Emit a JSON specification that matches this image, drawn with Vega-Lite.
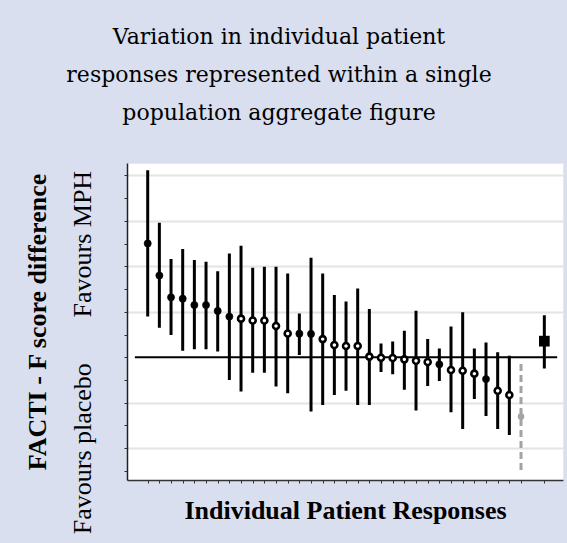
{
  "$schema": "https://vega.github.io/schema/vega-lite/v6.json",
  "width": 436,
  "height": 317,
  "autosize": {"type": "none"},
  "padding": {"left": 127, "top": 163, "right": 4, "bottom": 63},
  "background": "#d9dfee",
  "config": {
    "view": {"fill": "white", "stroke": "#e8e8e8"},
    "font": "Liberation Serif"
  },
  "title": {
    "text": ["Variation in individual patient", "responses represented within a single", "population aggregate figure"],
    "font": "DejaVu Serif",
    "fontSize": 22,
    "fontWeight": "normal",
    "color": "black",
    "lineHeight": 38,
    "anchor": "middle",
    "frame": "group",
    "dx": -66,
    "offset": 38
  },
  "data": {
    "values": [
      {"i": 0, "est": 5.01, "lo": 1.79, "hi": 8.23, "type": "filled"},
      {"i": 1, "est": 3.60, "lo": 1.30, "hi": 5.92, "type": "filled"},
      {"i": 2, "est": 2.64, "lo": 0.98, "hi": 4.32, "type": "filled"},
      {"i": 3, "est": 2.58, "lo": 0.29, "hi": 4.76, "type": "filled"},
      {"i": 4, "est": 2.30, "lo": 0.35, "hi": 4.28, "type": "filled"},
      {"i": 5, "est": 2.30, "lo": 0.35, "hi": 4.20, "type": "filled"},
      {"i": 6, "est": 2.04, "lo": 0.25, "hi": 3.79, "type": "filled"},
      {"i": 7, "est": 1.79, "lo": -1.00, "hi": 4.57, "type": "filled"},
      {"i": 8, "est": 1.70, "lo": -1.51, "hi": 4.91, "type": "open"},
      {"i": 9, "est": 1.62, "lo": -0.68, "hi": 3.94, "type": "open"},
      {"i": 10, "est": 1.62, "lo": -0.68, "hi": 3.98, "type": "open"},
      {"i": 11, "est": 1.38, "lo": -1.29, "hi": 3.98, "type": "open"},
      {"i": 12, "est": 1.05, "lo": -1.58, "hi": 3.69, "type": "open"},
      {"i": 13, "est": 1.04, "lo": 0.10, "hi": 1.93, "type": "filled"},
      {"i": 14, "est": 1.03, "lo": -2.39, "hi": 4.38, "type": "filled"},
      {"i": 15, "est": 0.80, "lo": -2.10, "hi": 3.69, "type": "open"},
      {"i": 16, "est": 0.54, "lo": -1.66, "hi": 2.74, "type": "open"},
      {"i": 17, "est": 0.50, "lo": -1.47, "hi": 2.45, "type": "open"},
      {"i": 18, "est": 0.50, "lo": -2.10, "hi": 3.03, "type": "open"},
      {"i": 19, "est": 0.03, "lo": -2.10, "hi": 2.12, "type": "open"},
      {"i": 20, "est": -0.02, "lo": -0.65, "hi": 0.61, "type": "open"},
      {"i": 21, "est": -0.03, "lo": -0.75, "hi": 0.69, "type": "open"},
      {"i": 22, "est": -0.09, "lo": -1.43, "hi": 1.17, "type": "open"},
      {"i": 23, "est": -0.15, "lo": -2.34, "hi": 2.05, "type": "open"},
      {"i": 24, "est": -0.21, "lo": -1.26, "hi": 0.80, "type": "open"},
      {"i": 25, "est": -0.31, "lo": -1.04, "hi": 0.39, "type": "filled"},
      {"i": 26, "est": -0.56, "lo": -2.42, "hi": 1.35, "type": "open"},
      {"i": 27, "est": -0.59, "lo": -3.16, "hi": 1.98, "type": "open"},
      {"i": 28, "est": -0.72, "lo": -1.83, "hi": 0.39, "type": "open"},
      {"i": 29, "est": -0.96, "lo": -2.58, "hi": 0.65, "type": "filled"},
      {"i": 30, "est": -1.47, "lo": -3.16, "hi": 0.22, "type": "open"},
      {"i": 31, "est": -1.66, "lo": -3.42, "hi": 0.07, "type": "open"},
      {"i": 32, "est": -2.61, "lo": -4.96, "hi": -0.30, "type": "grey"},
      {"i": 34, "est": 0.71, "lo": -0.49, "hi": 1.85, "type": "aggregate"}
    ]
  },
  "layer": [
    {
      "mark": {"type": "rule", "stroke": "black", "strokeWidth": 3, "strokeCap": "butt"},
      "encoding": {
        "x": {
          "field": "i",
          "type": "quantitative",
          "scale": {"domain": [-1.775, 35.6], "nice": false, "zero": false},
          "axis": {
            "values": [0,1,2,3,4,5,6,7,8,9,10,11,12,13,14,15,16,17,18,19,20,21,22,23,24,25,26,27,28,29,30,31,32,34],
            "tickCount": 100,
            "labels": false,
            "grid": false,
            "ticks": true,
            "tickSize": 3,
            "tickColor": "#333333",
            "domainColor": "#333333",
            "domainWidth": 1.5,
            "title": "Individual Patient Responses",
            "titleFont": "Liberation Serif",
            "titleFontSize": 26,
            "titleFontWeight": "bold",
            "titleColor": "black",
            "titlePadding": 14
          }
        },
        "y": {
          "field": "lo",
          "type": "quantitative",
          "scale": {"domain": [-5.4, 8.55], "nice": false, "zero": false},
          "axis": {
            "values": [-5,-4,-3,-2,-1,0,1,2,3,4,5,6,7,8],
            "tickCount": 100,
            "grid": true,
            "gridColor": "#e4e4e4",
            "gridWidth": 2,
            "gridOpacity": {"condition": {"test": "datum.value % 2 === 0 && datum.value !== 0", "value": 1}, "value": 0},
            "labelExpr": "datum.value == 5 ? 'Favours MPH' : (datum.value == -4 ? 'Favours placebo' : '')",
            "labelAngle": 270,
            "labelAlign": "center",
            "labelBaseline": "bottom",
            "labelFont": "Liberation Serif",
            "labelFontSize": 26,
            "labelFontWeight": "normal",
            "labelColor": "black",
            "labelPadding": 29,
            "labelOverlap": false,
            "labelBound": false,
            "tickSize": 3,
            "tickColor": "#333333",
            "domainColor": "#222222",
            "domainWidth": 1.5,
            "title": "FACTI - F score difference",
            "titleFont": "Liberation Serif",
            "titleFontSize": 26,
            "titleFontWeight": "bold",
            "titleColor": "black",
            "titlePadding": 19
          }
        },
        "y2": {"field": "hi"},
        "stroke": {"condition": {"test": "datum.type === 'grey'", "value": "#a3a3a3"}, "value": "black"},
        "strokeDash": {"condition": {"test": "datum.type === 'grey'", "value": [7, 4]}, "value": [1, 0]},
        "strokeWidth": {"condition": {"test": "datum.type === 'grey' || datum.type === 'aggregate'", "value": 2}, "value": 3}
      }
    },
    {
      "data": {"values": [{}]},
      "mark": {"type": "rule", "stroke": "black", "strokeWidth": 2},
      "encoding": {
        "y": {"datum": 0, "type": "quantitative"},
        "x": {"datum": -1.1, "type": "quantitative"},
        "x2": {"datum": 35.1}
      }
    },
    {
      "transform": [{"filter": "datum.type === 'filled'"}],
      "mark": {"type": "point", "shape": "circle", "filled": true, "fill": "black", "stroke": "black", "strokeWidth": 0.5, "opacity": 1, "size": 52},
      "encoding": {
        "x": {"field": "i", "type": "quantitative"},
        "y": {"field": "est", "type": "quantitative"}
      }
    },
    {
      "transform": [{"filter": "datum.type === 'open'"}],
      "mark": {"type": "point", "shape": "circle", "filled": true, "fill": "white", "stroke": "black", "strokeWidth": 2.6, "opacity": 1, "size": 36},
      "encoding": {
        "x": {"field": "i", "type": "quantitative"},
        "y": {"field": "est", "type": "quantitative"}
      }
    },
    {
      "transform": [{"filter": "datum.type === 'grey'"}],
      "mark": {"type": "point", "shape": "circle", "filled": true, "fill": "#a3a3a3", "opacity": 1, "size": 42},
      "encoding": {
        "x": {"field": "i", "type": "quantitative"},
        "y": {"field": "est", "type": "quantitative"}
      }
    },
    {
      "transform": [{"filter": "datum.type === 'aggregate'"}],
      "mark": {"type": "point", "shape": "square", "filled": true, "fill": "black", "opacity": 1, "size": 115},
      "encoding": {
        "x": {"field": "i", "type": "quantitative"},
        "y": {"field": "est", "type": "quantitative"}
      }
    }
  ]
}
